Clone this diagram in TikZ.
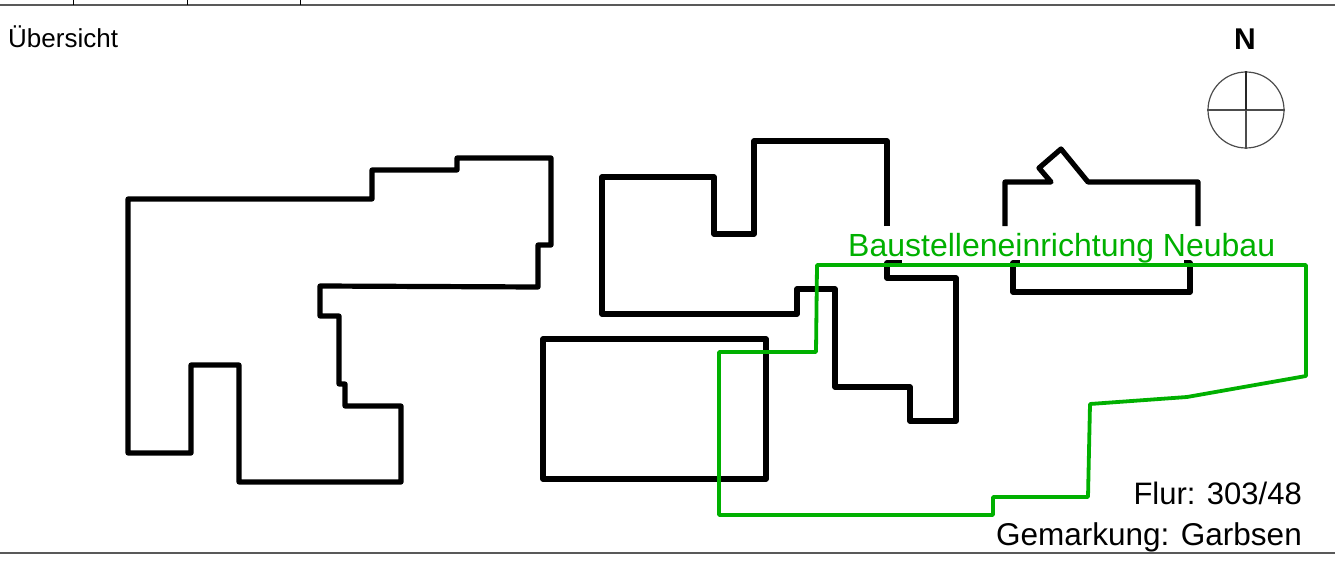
\documentclass[tikz,border=0pt]{standalone}
\usepackage{fontspec}
\setmainfont{Liberation Sans}
\tikzset{
	bau/.style = {line width = 5.2pt, black, line join = round},
	flaeche/.style = {line width = 3.8pt, draw = gruen, line join = round},
	rand/.style = {line width = 1.6pt, draw = black!65},
	schrift/.style = {inner sep = 0pt, font = \fontsize{27}{30}\selectfont}
}
\definecolor{gruen}{RGB}{0,176,0}
\begin{document}
\begin{tikzpicture}[x = 1pt, y = -1pt]
\useasboundingbox (0 ,0) rectangle (1335 ,564);
% blattrand
\draw [rand] (0 ,5) -- (1335 ,5);
\draw [rand] (0 ,553) -- (1335 ,553);
\foreach \x in {73,187,300}{
	\draw [line width = 1pt] (\x ,0) -- (\x ,5);
}
% gebaeude
\draw [bau] (128 ,199)--(372 ,199)--(372 ,170)--(457 ,170)--(457 ,158)--(551 ,158)--(551 ,245)--(538 ,245)--(538 ,287)--(320 ,286)--(320 ,316)--(339 ,316)--(339 ,384)--(345 ,384)--(345 ,406)--(401 ,406)--(401 ,482)--(239 ,482)--(239 ,365)--(191 ,365)--(191 ,453)--(128 ,453)-- cycle;
\draw [bau] (887 ,226)--(887 ,141)--(754 ,141)--(754 ,234)--(714 ,234)--(714 ,177)--(602 ,177)--(602 ,314)--(797 ,314)--(797 ,289)--(835 ,289)--(835 ,387)--(910 ,387)--(910 ,421)--(956 ,421)--(956 ,278)--(887 ,278)--(887 ,263)--(902 ,263);
\draw [bau] (543 ,339)--(766 ,339)--(766 ,479)--(543 ,479)-- cycle;
\draw [bau] (1005 ,226)--(1005 ,182)--(1051 ,182)--(1039 ,168)--(1061 ,149)--(1088 ,182)--(1198 ,182)--(1198 ,226);
\draw [bau] (1020 ,263)--(1013 ,263)--(1013 ,292)--(1190 ,292)--(1190 ,263)--(1184 ,263);
% baustelle
\draw [flaeche] (817 ,265)--(1306 ,265)--(1306 ,376)--(1187 ,397)--(1090 ,404)--(1088 ,497)--(993 ,497)--(993 ,515)--(719 ,515)--(719 ,352)--(816 ,352)-- cycle;
% nordpfeil
\node [draw = black!70, line width = 1.2pt, circle, minimum size = 76pt, inner sep = 0pt] (kreis) at (1246 ,110) {};
\draw [line width = 1.2pt, black!70] (kreis.west) -- (kreis.east);
\draw [line width = 1.2pt, black!70] (kreis.center) -- (kreis.south);
\draw [line width = 1.5pt, black!85] (kreis.center) -- (kreis.north);
% texte
\node [schrift, font = \fontsize{30}{30}\selectfont\bfseries] (nord) at (1245 ,39) {N};
\node [schrift, anchor = base west, font = \fontsize{26}{30}\selectfont] (titel) at (8 ,48) {Übersicht};
\node [schrift, anchor = base west, text = gruen, font = \fontsize{32}{30}\selectfont] (baustelle) at (848 ,256) {Baustelleneinrichtung Neubau};
\node [schrift, anchor = base east, font = \fontsize{31}{30}\selectfont] (flur) at (1302 ,504) {Flur: 303/48};
\node [schrift, anchor = base east, font = \fontsize{31.5}{30}\selectfont] (gemarkung) at (1302 ,545) {Gemarkung: Garbsen};
\end{tikzpicture}
\end{document}
